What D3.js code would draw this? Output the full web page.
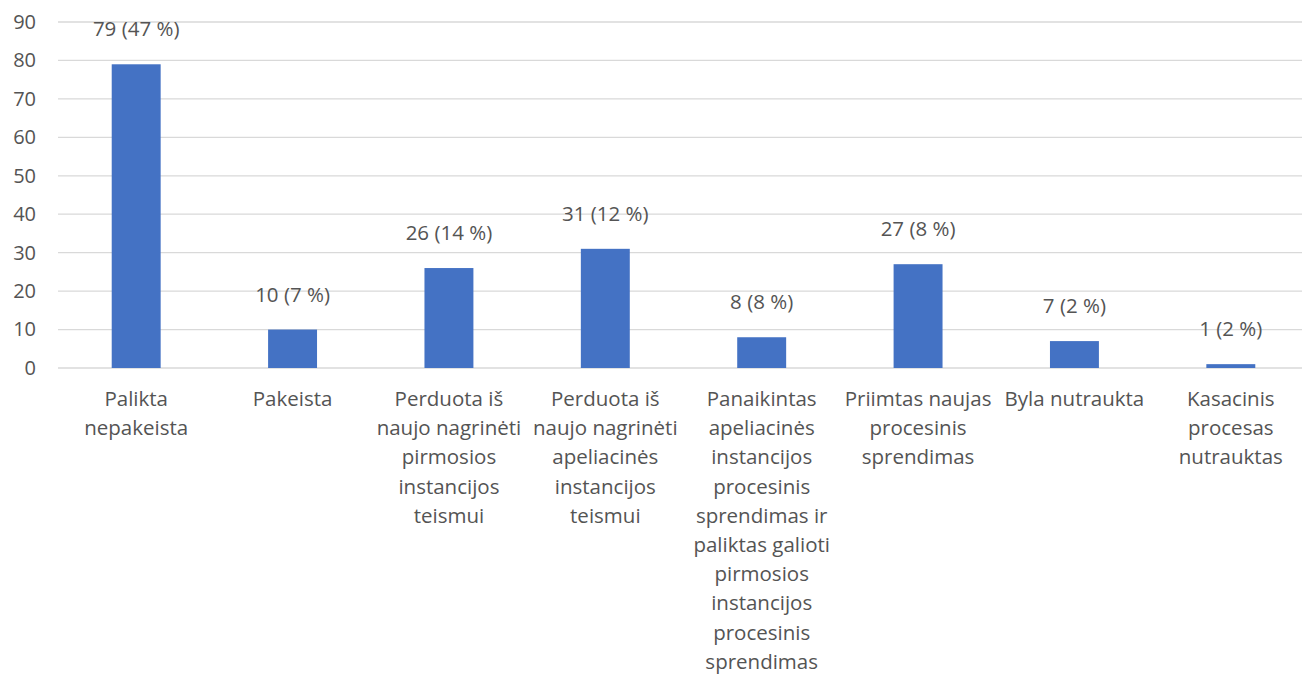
<!DOCTYPE html>
<html>
<head>
<meta charset="utf-8">
<script src="https://cdn.jsdelivr.net/npm/d3@7"></script>
<style>
  body { margin: 0; background: #fff; }
  text { font-family: "Open Sans", sans-serif; fill: #545454; }
</style>
</head>
<body>
<script>
// chart data
var categories = [
    ["Palikta", "nepakeista"],
    ["Pakeista"],
    ["Perduota iš", "naujo nagrinėti", "pirmosios", "instancijos", "teismui"],
    ["Perduota iš", "naujo nagrinėti", "apeliacinės", "instancijos", "teismui"],
    ["Panaikintas", "apeliacinės", "instancijos", "procesinis", "sprendimas ir", "paliktas galioti", "pirmosios", "instancijos", "procesinis", "sprendimas"],
    ["Priimtas naujas", "procesinis", "sprendimas"],
    ["Byla nutraukta"],
    ["Kasacinis", "procesas", "nutrauktas"]
];
var counts = [79, 10, 26, 31, 8, 27, 7, 1];
var percents = [47, 7, 14, 12, 8, 8, 2, 2];
var yTicks = [0, 10, 20, 30, 40, 50, 60, 70, 80, 90];

var w = 1302, h = 675;

var svg = d3.select("body")
    .append("svg")
    .attr("width", w)
    .attr("height", h);

var x = d3.scaleBand()
    .domain(d3.range(categories.length))
    .range([58, 1309])
    .paddingInner(0.687)
    .paddingOuter(0.3435);

var y = d3.scaleLinear()
    .domain([0, 90])
    .range([368, 22]);

// gridlines
svg.append("g")
    .selectAll("line")
    .data(yTicks)
    .enter()
    .append("line")
    .attr("x1", 58)
    .attr("x2", w)
    .attr("y1", function(d){ return y(d); })
    .attr("y2", function(d){ return y(d); })
    .style("stroke", "#d9d9d9")
    .style("stroke-width", 1.3);

// y axis labels
var yAxis = d3.axisLeft(y)
    .tickValues(yTicks)
    .tickSize(0)
    .tickPadding(0);

var axisG = svg.append("g")
    .attr("transform", "translate(36,0)")
    .call(yAxis);
axisG.select(".domain").remove();
axisG.selectAll("text")
    .attr("text-anchor", "end")
    .style("font-size", "20px")
    .style("font-family", "'Open Sans', sans-serif")
    .style("fill", "#545454");

// bars
svg.selectAll(".bar")
    .data(counts)
    .enter()
    .append("rect")
    .attr("class", "bar")
    .attr("x", function(d, i){ return x(i); })
    .attr("width", x.bandwidth())
    .attr("y", function(d){ return y(d); })
    .attr("height", function(d){ return y(0) - y(d); })
    .style("fill", "#4472c4");

// value labels
svg.selectAll(".vlabel")
    .data(counts)
    .enter()
    .append("text")
    .attr("class", "vlabel")
    .attr("text-anchor", "middle")
    .attr("x", function(d, i){ return x(i) + x.bandwidth() / 2; })
    .attr("y", function(d){ return y(d) - 28; })
    .style("font-size", "20.5px")
    .text(function(d, i){ return d + " (" + percents[i] + " %)"; });

// category labels
var catLabels = svg.selectAll(".clabel")
    .data(categories)
    .enter()
    .append("text")
    .attr("class", "clabel")
    .attr("text-anchor", "middle")
    .attr("y", 406)
    .style("font-size", "20.5px");

catLabels.selectAll("tspan")
    .data(function(d, i){
        return d.map(function(line){ return { line: line, i: i }; });
    })
    .enter()
    .append("tspan")
    .attr("x", function(d){ return x(d.i) + x.bandwidth() / 2; })
    .attr("dy", function(d, j){ return j === 0 ? 0 : 29.2; })
    .text(function(d){ return d.line; });
</script>
</body>
</html>
